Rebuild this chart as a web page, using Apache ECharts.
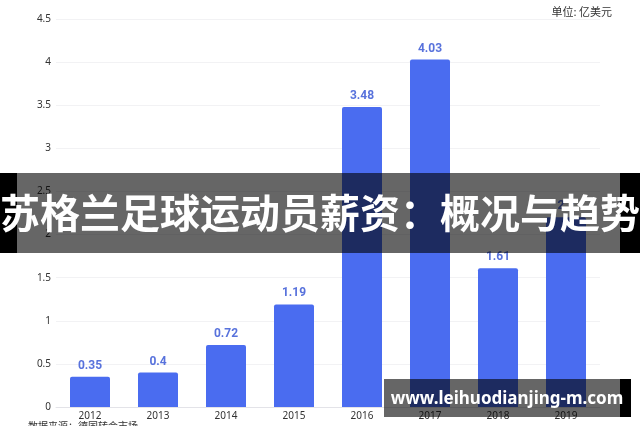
<!DOCTYPE html>
<html><head><meta charset="utf-8">
<script src="https://cdn.jsdelivr.net/npm/echarts@6/dist/echarts.min.js"></script>
<style>html,body{margin:0;padding:0;background:#fff}#c{width:640px;height:426px}</style>
</head><body><div id="c"></div>
<script>
const years = ['2012','2013','2014','2015','2016','2017','2018','2019'];
const salaries = [0.35, 0.4, 0.72, 1.19, 3.48, 4.03, 1.61, 2.2];
const yTicks = {min: 0, max: 4.5, interval: 0.5};
const unitText = '单位: 亿美元';
const sourceText = '数据来源：德国转会市场';
const bannerText = '苏格兰足球运动员薪资：概况与趋势';
const siteText = 'www.leihuodianjing-m.com';

const chart = echarts.init(document.getElementById('c'), null, {renderer: 'canvas'});
chart.setOption({
  animation: false,
  backgroundColor: '#fff',
  grid: {left: 56, right: 40, top: 19, bottom: 19, containLabel: false},
  xAxis: {
    type: 'category', data: years,
    axisLine: {lineStyle: {color: '#e3e3e8'}},
    axisTick: {show: false},
    axisLabel: {color: '#333', fontSize: 10, fontFamily: 'Noto Sans', margin: 4}
  },
  yAxis: {
    type: 'value', min: yTicks.min, max: yTicks.max, interval: yTicks.interval,
    axisLine: {show: false}, axisTick: {show: false},
    splitLine: {lineStyle: {color: '#f2f2f4'}},
    axisLabel: {color: '#333', fontSize: 10, fontFamily: 'Noto Sans', margin: 5}
  },
  series: [{
    type: 'bar', data: salaries, barWidth: 40,
    itemStyle: {color: '#4a6cf0', borderRadius: [2,2,0,0]},
    label: {show: true, position: 'top', color: '#5872dc', fontSize: 12, fontWeight: 'bold', fontFamily: 'Roboto', distance: 5}
  }],
  graphic: [
    {type: 'text', right: 28, top: 6, style: {text: unitText, fill: '#333', fontSize: 11, fontFamily: 'Noto Sans CJK SC'}},
    {type: 'text', left: 28, top: 421, style: {text: sourceText, fill: '#333', fontSize: 10, fontFamily: 'Noto Sans CJK SC'}},
    {type: 'rect', shape: {x: 0, y: 173, width: 640, height: 80}, style: {fill: 'rgba(0,0,0,0.6)'}, z: 100},
    {type: 'rect', shape: {x: 0, y: 173, width: 17, height: 80}, style: {fill: '#000'}, z: 101},
    {type: 'rect', shape: {x: 620, y: 173, width: 20, height: 80}, style: {fill: '#000'}, z: 101},
    {type: 'text', x: 320, y: 213, style: {text: bannerText, fill: '#fff', fontSize: 40, fontWeight: 'bold', fontFamily: 'Noto Sans CJK SC', align: 'center', verticalAlign: 'middle'}, z: 102},
    {type: 'rect', shape: {x: 384, y: 379, width: 236, height: 38}, style: {fill: 'rgba(0,0,0,0.6)'}, z: 100},
    {type: 'rect', shape: {x: 620, y: 379, width: 11, height: 38}, style: {fill: '#000'}, z: 101},
    {type: 'text', x: 507, y: 399, style: {text: siteText, fill: '#fff', fontSize: 17, fontWeight: 'bold', fontFamily: 'Noto Sans', align: 'center', verticalAlign: 'middle'}, z: 102}
  ]
});
</script></body></html>
